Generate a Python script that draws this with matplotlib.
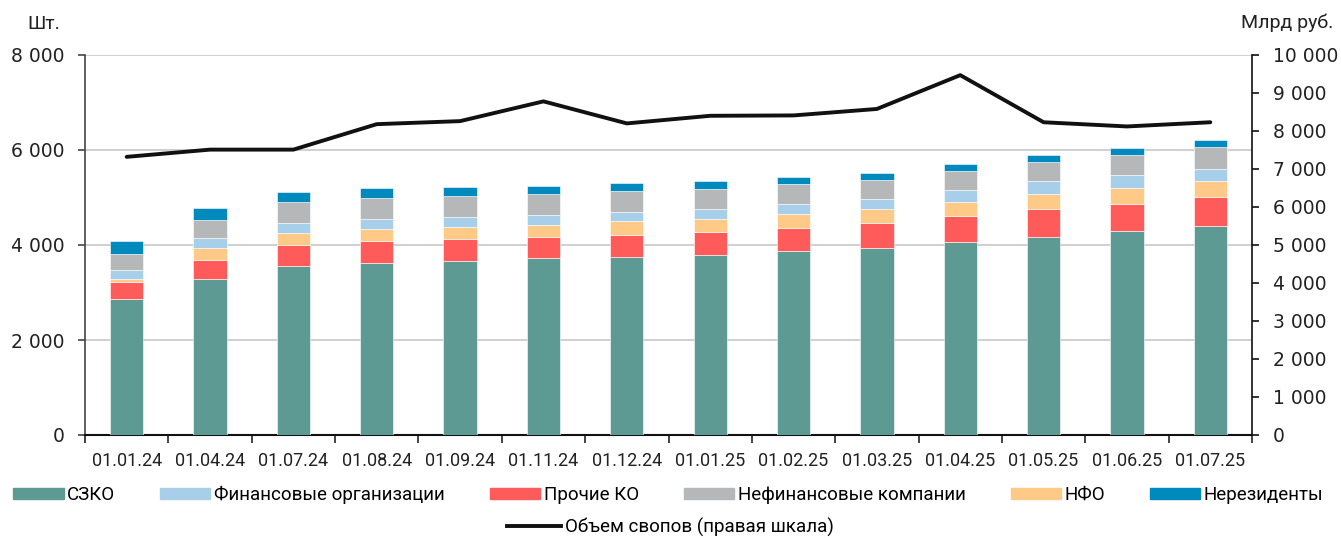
import matplotlib
matplotlib.use("Agg")
import matplotlib.pyplot as plt
import numpy as np
from matplotlib.patches import Patch
from matplotlib.lines import Line2D

plt.rcParams['font.family'] = ['Roboto', 'DejaVu Sans']

dates = ["01.01.24", "01.04.24", "01.07.24", "01.08.24", "01.09.24", "01.11.24", "01.12.24",
         "01.01.25", "01.02.25", "01.03.25", "01.04.25", "01.05.25", "01.06.25", "01.07.25"]

szko = [2865, 3290, 3565, 3630, 3670, 3725, 3740, 3780, 3865, 3945, 4065, 4175, 4285, 4390]
prochie_ko = [365, 395, 430, 455, 455, 435, 475, 490, 500, 510, 555, 585, 585, 625]
nfo = [55, 260, 260, 260, 260, 265, 290, 275, 280, 295, 295, 320, 335, 340]
fin_org = [190, 195, 205, 205, 205, 210, 195, 210, 215, 215, 235, 265, 265, 255]
nefin = [335, 395, 435, 440, 435, 430, 430, 425, 415, 395, 405, 405, 435, 460]
nerez = [275, 245, 215, 210, 195, 180, 175, 160, 160, 155, 140, 150, 140, 140]
swaps = [7320, 7510, 7510, 8180, 8260, 8780, 8200, 8400, 8410, 8580, 9470, 8230, 8120, 8230]

left_ticks = [0, 2000, 4000, 6000, 8000]
left_labels = ["0", "2 000", "4 000", "6 000", "8 000"]
right_ticks = [0, 1000, 2000, 3000, 4000, 5000, 6000, 7000, 8000, 9000, 10000]
right_labels = ["0", "1 000", "2 000", "3 000", "4 000", "5 000", "6 000", "7 000", "8 000", "9 000", "10 000"]

c_szko = "#5D9A94"
c_fin = "#A8CFE9"
c_pko = "#FF5B5B"
c_nefin = "#B6B7B8"
c_nfo = "#FFCA87"
c_nerez = "#0089BD"

fig = plt.figure(figsize=(13.41, 5.38), dpi=100)
ax = fig.add_axes([85/1341, 1-435/538, (1252-85)/1341, (435-55)/538])

x = np.arange(len(dates))
w = 0.4
stack = [(szko, c_szko), (prochie_ko, c_pko), (nfo, c_nfo), (fin_org, c_fin), (nefin, c_nefin), (nerez, c_nerez)]
bottom = np.zeros(len(dates))
for vals, col in stack:
    ax.bar(x, vals, w, bottom=bottom, color=col, edgecolor="#FFFFFF", linewidth=0.4, zorder=3)
    bottom += np.array(vals)

num_font = dict(family=['DejaVu Sans'], size=13.5)

ax.set_xlim(-0.5, len(dates) - 0.5)
ax.set_ylim(0, 8000)
ax.set_yticks(left_ticks)
ax.set_yticklabels(left_labels, fontdict=num_font, color="#222222")
ax.grid(axis='y', color="#C8C8C8", linewidth=1.2, zorder=0)
ax.set_axisbelow(True)

ax.set_xticks(x)
ax.set_xticklabels(dates, fontsize=13, color="#222222")
ax.tick_params(axis='x', length=0, pad=12)
ax.set_xticks(np.arange(-0.5, len(dates), 1.0), minor=True)
ax.tick_params(axis='x', which='minor', length=6, width=1.2, color="#222222", direction='out')
ax.tick_params(axis='y', length=5, width=1.2, color="#444444", pad=10)

ax.spines['top'].set_visible(False)
ax.spines['left'].set_color("#444444")
ax.spines['left'].set_linewidth(1.2)
ax.spines['bottom'].set_color("#111111")
ax.spines['bottom'].set_linewidth(1.5)
ax.spines['right'].set_visible(False)

ax2 = ax.twinx()
ax2.plot(x, swaps, color="#111111", linewidth=2.8, solid_capstyle='round', zorder=5)
ax2.set_ylim(0, 10000)
ax2.set_yticks(right_ticks)
ax2.set_yticklabels(right_labels, fontdict=num_font, color="#222222")
ax2.tick_params(axis='y', length=5, width=1.2, color="#111111", pad=10)
for s in ['top', 'left', 'bottom']:
    ax2.spines[s].set_visible(False)
ax2.spines['right'].set_color("#111111")
ax2.spines['right'].set_linewidth(1.2)

fig.text(27/1341, 1-24/538, "Шт.", fontsize=14, va='center', ha='left', color="#222222")
fig.text(1333/1341, 1-23/538, "Млрд руб.", fontsize=14, va='center', ha='right', color="#222222")

handles = [Patch(color=c_szko, label="СЗКО"),
           Patch(color=c_fin, label="Финансовые организации"),
           Patch(color=c_pko, label="Прочие КО"),
           Patch(color=c_nefin, label="Нефинансовые компании"),
           Patch(color=c_nfo, label="НФО"),
           Patch(color=c_nerez, label="Нерезиденты")]
fig.legend(handles=handles, loc='center', bbox_to_anchor=(0.4985, 1-495/538), ncol=6,
           frameon=False, fontsize=13.5, handlelength=2.67, handleheight=0.55,
           handletextpad=0.2, columnspacing=2.4, borderaxespad=0, borderpad=0)
fig.legend(handles=[Line2D([0], [0], color="#111111", linewidth=2.8, label="Объем свопов (правая шкала)")],
           loc='center', bbox_to_anchor=(0.5, 1-527/538), frameon=False, fontsize=13.5,
           handlelength=2.9, handletextpad=0.2, borderaxespad=0, borderpad=0)

fig.savefig("out.png", dpi=100)
